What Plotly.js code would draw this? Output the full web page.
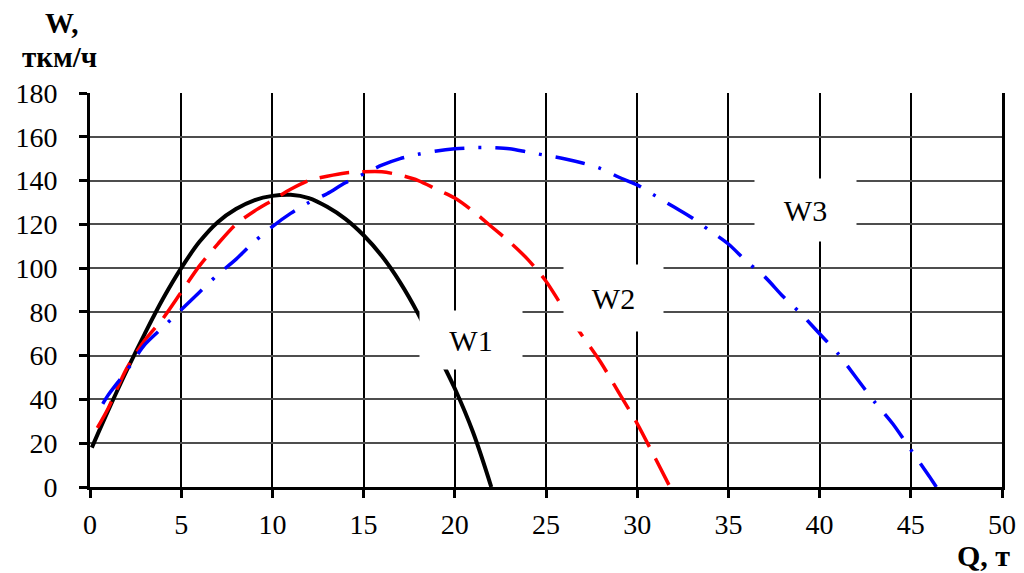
<!DOCTYPE html>
<html>
<head>
<meta charset="utf-8">
<script src="https://cdn.plot.ly/plotly-3.0.1.min.js"></script>
<style>html,body{margin:0;padding:0;background:#fff;}#chart{width:1024px;height:573px;}</style>
</head>
<body>
<div id="chart"></div>
<script>
// W1 (solid black)
const q1 = [0.1, 1, 2, 3, 4, 5, 6, 7, 8, 9, 10, 11, 12, 13, 14, 15, 16, 17, 18, 19, 20, 21, 22];
const w1 = [18, 35, 53, 70, 86, 100, 112, 121, 127, 131, 133, 133.5, 132, 128, 122.5, 115, 105.5, 93.5, 79, 62, 45, 25, 0];
// W2 (dashed red)
const q2 = [0.4, 1, 2, 3, 4, 5, 6, 7, 8, 9, 10, 11, 12, 13, 14, 15, 16, 17, 18, 19, 20, 21, 22, 23, 24, 25, 26, 27, 28, 29, 30, 31, 31.8];
const w2 = [27, 36, 54, 67, 77, 89, 101, 111, 120, 126, 131, 136, 140, 142, 143.5, 144, 144, 142.5, 140, 136, 132, 126, 119, 112, 104, 94, 81, 69, 57, 43, 29, 13, 0];
// W3 (dash-dot blue)
const q3 = [0.7, 1, 2, 3, 4, 5, 6, 7, 8, 9, 10, 11, 12, 13, 14, 15, 16, 17, 18, 19, 20, 21, 22, 23, 24, 25, 26, 27, 28, 29, 30, 31, 32, 33, 34, 35, 36, 37, 38, 39, 40, 41, 42, 43, 44, 45, 46, 46.4];
const w3 = [38, 42, 53, 65, 73, 81, 89, 97, 104, 112, 119, 125, 130, 134, 139, 143, 147, 150, 152, 153.5, 154.5, 155, 155, 154.5, 153, 151.5, 150, 148, 145.5, 141.5, 138, 133, 128, 123, 117, 111, 103, 96, 87, 79, 70, 61, 50, 39, 29, 17, 5, 0];

const labels = ['W1', 'W2', 'W3'];
const labelQ = [20.9, 28.7, 39.2];
const labelW = [67, 86.3, 126.5];

const xTicks = [0, 5, 10, 15, 20, 25, 30, 35, 40, 45, 50];
const yTicks = [0, 20, 40, 60, 80, 100, 120, 140, 160, 180];

const serif = 'Liberation Serif, Times New Roman, serif';

const traces = [
  {x: q1, y: w1, mode: 'lines', line: {color: '#000000', width: 4, shape: 'spline', smoothing: 1}, name: 'W1', showlegend: false, hoverinfo: 'skip'},
  {x: q2, y: w2, mode: 'lines', line: {color: '#ff0000', width: 3.5, shape: 'spline', smoothing: 0.8, dash: '30px,13px'}, name: 'W2', showlegend: false, hoverinfo: 'skip'},
  {x: q3, y: w3, mode: 'lines', line: {color: '#0000ff', width: 3.5, shape: 'spline', smoothing: 0.8, dash: '30px,14px,3px,14px'}, name: 'W3', showlegend: false, hoverinfo: 'skip'}
];

const boxSizes = [[100, 56], [97, 64], [99, 60]];
const annotations = labels.map((t, i) => ({
  x: labelQ[i], y: labelW[i], xref: 'x', yref: 'y', text: t, showarrow: false,
  xanchor: 'center', yanchor: 'middle', bgcolor: '#ffffff',
  width: boxSizes[i][0], height: boxSizes[i][1],
  font: {family: serif, size: 30, color: '#000'}
}));
annotations.push(
  {xref: 'paper', yref: 'paper', x: -0.031, y: 1.178, xanchor: 'center', yanchor: 'middle', text: '<b>W,</b>', showarrow: false, font: {family: serif, size: 29, color: '#000'}},
  {xref: 'paper', yref: 'paper', x: -0.033, y: 1.092, xanchor: 'center', yanchor: 'middle', text: '<b>ткм/ч</b>', showarrow: false, font: {family: serif, size: 29, color: '#000'}},
  {xref: 'paper', yref: 'paper', x: 0.98, y: -0.175, xanchor: 'center', yanchor: 'middle', text: '<b>Q, т</b>', showarrow: false, font: {family: serif, size: 30, color: '#000'}}
);

const layout = {
  width: 1024, height: 573,
  margin: {l: 90, r: 22, t: 93, b: 86},
  paper_bgcolor: '#ffffff', plot_bgcolor: '#ffffff',
  showlegend: false,
  xaxis: {
    range: [0, 50], tickvals: xTicks, ticktext: xTicks.map(String),
    showgrid: true, gridcolor: '#000000', gridwidth: 2,
    showline: true, linecolor: '#000000', linewidth: 3,
    ticks: 'outside', ticklen: 8, tickwidth: 3, tickcolor: '#000',
    ticklabelstandoff: 2,
    zeroline: false, fixedrange: true,
    tickfont: {family: serif, size: 28, color: '#000'}
  },
  yaxis: {
    range: [0, 180], tickvals: yTicks, ticktext: yTicks.map(String),
    showgrid: true, gridcolor: '#4d4d4d', gridwidth: 2,
    showline: true, linecolor: '#000000', linewidth: 3, mirror: true,
    ticks: 'outside', ticklen: 8, tickwidth: 3, tickcolor: '#000',
    ticklabelstandoff: 16,
    zeroline: false, fixedrange: true,
    tickfont: {family: serif, size: 28, color: '#000'}
  },
  annotations: annotations
};

Plotly.newPlot('chart', traces, layout, {displayModeBar: false, staticPlot: true});
</script>
</body>
</html>
